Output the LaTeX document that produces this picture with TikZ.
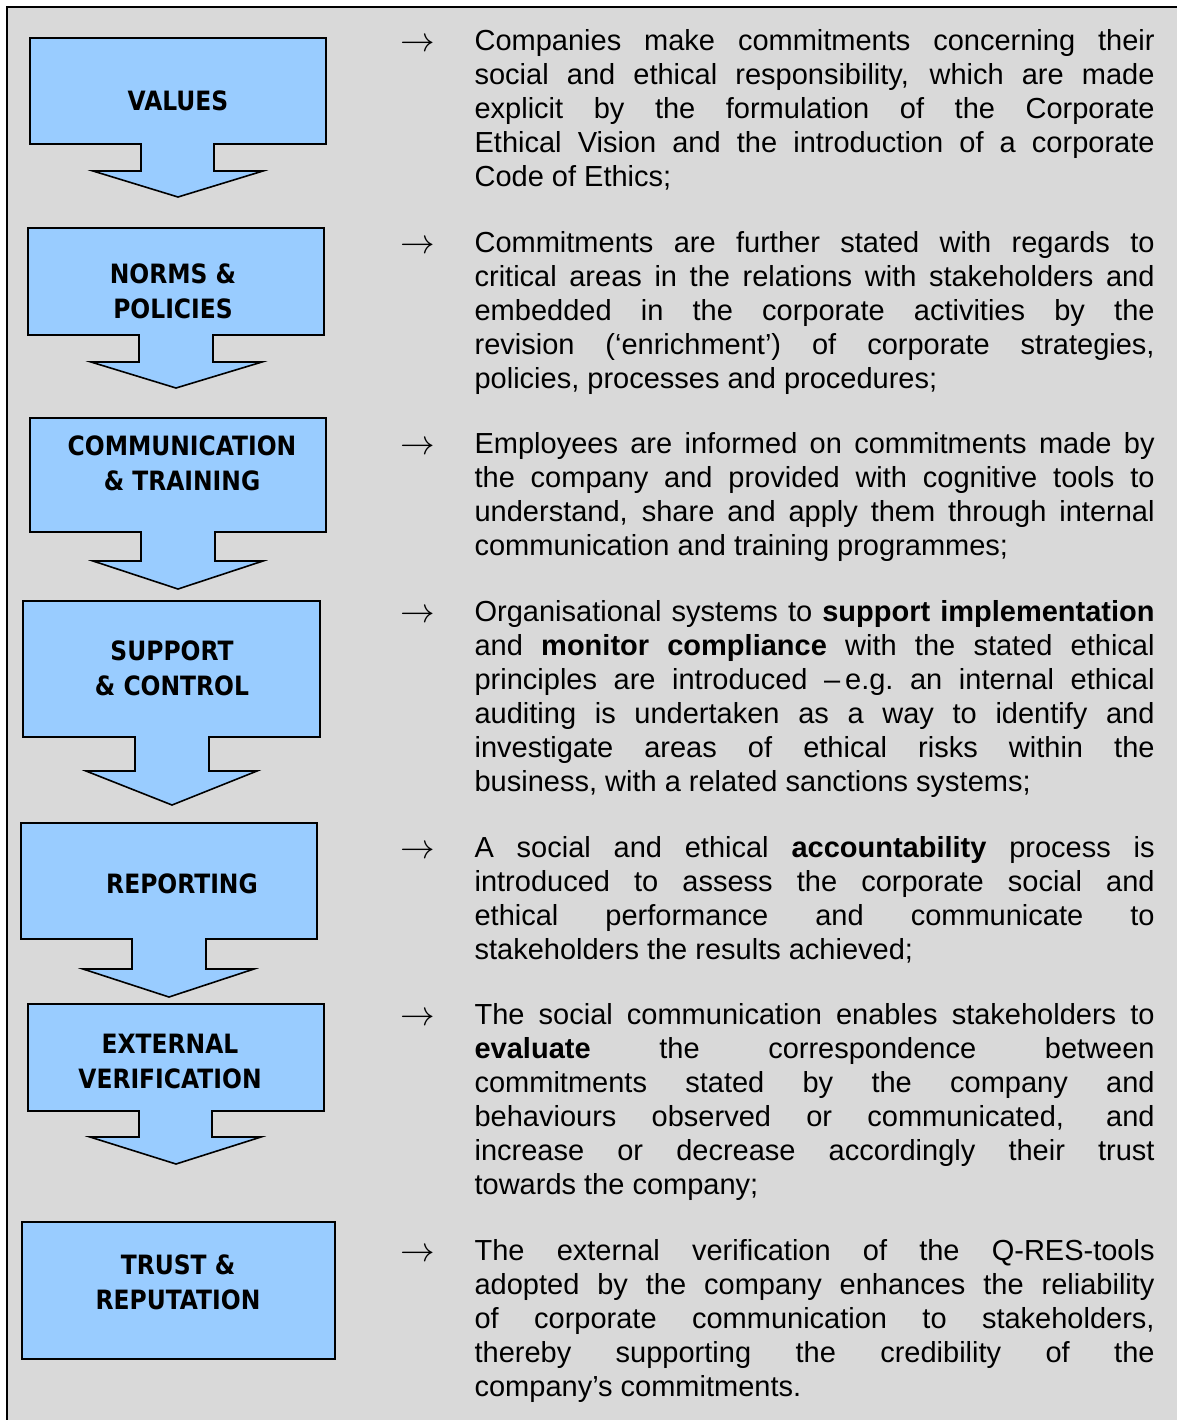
\documentclass[tikz,border=0pt]{standalone}
\usepackage{fontspec}
\setmainfont{Liberation Sans}
\newfontfamily\boxfont[FakeStretch=0.88]{DejaVu Sans}
\usepackage{tikz}
\usetikzlibrary{positioning}
\definecolor{panelgray}{HTML}{D9D9D9}
\definecolor{boxblue}{HTML}{99CCFF}
\tolerance=10000
\hbadness=10000
\hyphenpenalty=10000
\exhyphenpenalty=10000

\begin{document}
\begin{tikzpicture}[
            x = 0.5pt, y = -0.5pt, % one unit = one pixel, y going down
            line join = miter,
            semithick
        ]

        \tikzstyle{stage}=[
            draw = black,
            line width = 0.8pt,
            fill = boxblue
        ]
        \tikzstyle{stage label}=[
            inner sep = 0pt,
            align = center,
            font = \boxfont\bfseries\fontsize{13.3}{17.5}\selectfont
        ]
        \tikzstyle{desc}=[
            anchor = base west,
            inner sep = 0pt,
            text width = 340pt,
            align = justify,
            font = \fontsize{14.5}{17}\selectfont
        ]
        \tikzstyle{pointer}=[
            anchor = base west,
            inner sep = 0pt,
            font = \fontsize{18}{20}\selectfont
        ]

        \useasboundingbox (0,0) rectangle (1177,1420);

	% panel
        \draw[fill = panelgray, line width = 1.2pt] (7,7) rectangle (1190,1440);

	% block arrows
        \draw[stage] (30,38) -- (326,38) -- (326,144) -- (214,144) -- (214,171) -- (263,171) -- (178,197)
            -- (93,171) -- (141,171) -- (141,144) -- (30,144) -- cycle;
        \draw[stage] (28,228) -- (324,228) -- (324,335) -- (213,335) -- (213,362) -- (262,362) -- (176,388)
            -- (91,362) -- (139,362) -- (139,335) -- (28,335) -- cycle;
        \draw[stage] (30,418) -- (326,418) -- (326,532) -- (215,532) -- (215,561) -- (263,561) -- (178,589)
            -- (93,561) -- (141,561) -- (141,532) -- (30,532) -- cycle;
        \draw[stage] (23,601) -- (320,601) -- (320,737) -- (209,737) -- (209,771) -- (257,771) -- (172,805)
            -- (86,771) -- (135,771) -- (135,737) -- (23,737) -- cycle;
        \draw[stage] (21,823) -- (317,823) -- (317,939) -- (206,939) -- (206,969) -- (254,969) -- (169,997)
            -- (83,969) -- (132,969) -- (132,939) -- (21,939) -- cycle;
        \draw[stage] (28,1004) -- (324,1004) -- (324,1111) -- (212,1111) -- (212,1137) -- (261,1137) -- (176,1164)
            -- (90,1137) -- (139,1137) -- (139,1111) -- (28,1111) -- cycle;
        \draw[stage] (22,1222) rectangle (335,1359);

	% stage names
        \node[stage label] (values) at (178,101) {VALUES};
        \node[stage label] (norms) at (173,291) {NORMS \&\\POLICIES};
        \node[stage label] (training) at (182,463) {COMMUNICATION\\\& TRAINING};
        \node[stage label] (control) at (172,668) {SUPPORT\\\& CONTROL};
        \node[stage label] (reporting) at (182,884) {REPORTING};
        \node[stage label] (verification) at (170,1061) {EXTERNAL\\VERIFICATION};
        \node[stage label] (trust) at (178,1282) {TRUST \&\\REPUTATION};

	% descriptions
        \node[pointer] (p1) at (400,51) {$\rightarrow$};
        \node[desc] (d1) at (474,50) {Companies make commitments concerning their\linebreak
            social and ethical responsibility, which are made\linebreak
            explicit by the formulation of the Corporate\linebreak
            Ethical Vision and the introduction of a corporate\linebreak
            Code of Ethics;};

        \node[pointer] (p2) at (400,253) {$\rightarrow$};
        \node[desc] (d2) at (474,252) {Commitments are further stated with regards to\linebreak
            critical areas in the relations with stakeholders and\linebreak
            embedded in the corporate activities by the\linebreak
            revision (‘enrichment’) of corporate strategies,\linebreak
            policies, processes and procedures;};

        \node[pointer] (p3) at (400,454) {$\rightarrow$};
        \node[desc] (d3) at (474,453) {Employees are informed on commitments made by\linebreak
            the company and provided with cognitive tools to\linebreak
            understand, share and apply them through internal\linebreak
            communication and training programmes;};

        \node[pointer] (p4) at (400,622) {$\rightarrow$};
        \node[desc] (d4) at (474,621) {Organisational systems to \textbf{support implementation}\linebreak
            and \textbf{monitor compliance} with the stated ethical\linebreak
            principles are introduced --\,e.g.\ an internal ethical\linebreak
            auditing is undertaken as a way to identify and\linebreak
            investigate areas of ethical risks within the\linebreak
            business, with a related sanctions systems;};

        \node[pointer] (p5) at (400,858) {$\rightarrow$};
        \node[desc] (d5) at (474,857) {A social and ethical \textbf{accountability} process is\linebreak
            introduced to assess the corporate social and\linebreak
            ethical performance and communicate to\linebreak
            stakeholders the results achieved;};

        \node[pointer] (p6) at (400,1025) {$\rightarrow$};
        \node[desc] (d6) at (474,1024) {The social communication enables stakeholders to\linebreak
            \textbf{evaluate} the correspondence between\linebreak
            commitments stated by the company and\linebreak
            behaviours observed or communicated, and\linebreak
            increase or decrease accordingly their trust\linebreak
            towards the company;};

        \node[pointer] (p7) at (400,1261) {$\rightarrow$};
        \node[desc] (d7) at (474,1260) {The external verification of the Q-RES-tools\linebreak
            adopted by the company enhances the reliability\linebreak
            of corporate communication to stakeholders,\linebreak
            thereby supporting the credibility of the\linebreak
            company’s commitments.};

  \end{tikzpicture}
\end{document}
